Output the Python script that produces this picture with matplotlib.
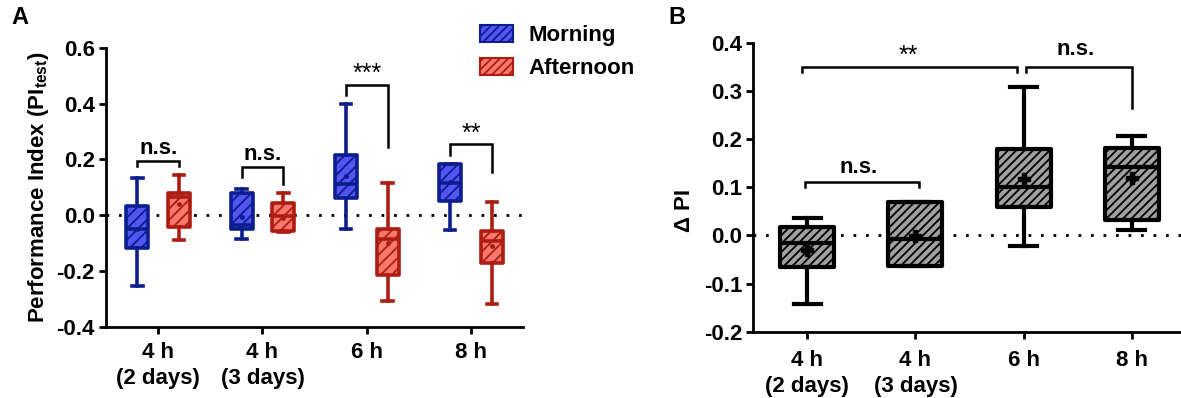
import numpy as np
import matplotlib
matplotlib.use("Agg")
import matplotlib.pyplot as plt
from matplotlib.patches import Patch

plt.rcParams['font.family'] = ['Liberation Sans', 'DejaVu Sans']
plt.rcParams['font.weight'] = 'bold'
plt.rcParams['axes.labelweight'] = 'bold'
plt.rcParams['mathtext.fontset'] = 'custom'
plt.rcParams['mathtext.rm'] = 'Liberation Sans:bold'
plt.rcParams['mathtext.bf'] = 'Liberation Sans:bold'
plt.rcParams['mathtext.default'] = 'bf'
plt.rcParams['hatch.linewidth'] = 1.3

# categories
groups = ["4 h\n(2 days)", "4 h\n(3 days)", "6 h", "8 h"]

# panel A - Morning
morn_lo = [-0.253, -0.085, -0.051, -0.054]
morn_q1 = [-0.116, -0.051, 0.062, 0.051]
morn_med = [-0.051, -0.037, 0.110, 0.116]
morn_q3 = [0.033, 0.081, 0.214, 0.183]
morn_hi = [0.134, 0.092, 0.400, 0.183]
morn_mean = [-0.050, -0.008, 0.140, 0.120]

# panel A - Afternoon
aft_lo = [-0.090, -0.060, -0.308, -0.319]
aft_q1 = [-0.044, -0.056, -0.213, -0.173]
aft_med = [0.066, -0.004, -0.084, -0.092]
aft_q3 = [0.078, 0.044, -0.051, -0.056]
aft_hi = [0.144, 0.078, 0.116, 0.047]
aft_mean = [0.039, -0.010, -0.100, -0.110]

# panel B - delta PI
d_lo = [-0.142, -0.063, -0.023, 0.012]
d_q1 = [-0.066, -0.063, 0.059, 0.031]
d_med = [-0.015, -0.007, 0.100, 0.143]
d_q3 = [0.017, 0.070, 0.179, 0.181]
d_hi = [0.036, 0.070, 0.309, 0.207]
d_mean = [-0.030, -0.002, 0.117, 0.119]


def make_stats(lo, q1, med, q3, hi, mean):
    return [dict(whislo=a, q1=b, med=c, q3=d, whishi=e, mean=f, fliers=[])
            for a, b, c, d, e, f in zip(lo, q1, med, q3, hi, mean)]


def draw_box(ax, stats, pos, width, edge, face, hatch, lw, capw, meanprops):
    bp = ax.bxp(stats, positions=pos, widths=width, patch_artist=True,
                showmeans=True, showfliers=False, capwidths=capw,
                boxprops=dict(facecolor=face, edgecolor=edge, linewidth=lw, hatch=hatch),
                medianprops=dict(color=edge, linewidth=lw),
                whiskerprops=dict(color=edge, linewidth=lw),
                capprops=dict(color=edge, linewidth=lw),
                meanprops=meanprops)
    for b in bp['boxes']:
        b.set_joinstyle('round')
    return bp


def bracket(ax, x1, x2, ytop, y1, y2, text, tx, ty, size, weight):
    ax.plot([x1, x1, x2, x2], [y1, ytop, ytop, y2], color='black', lw=1.8,
            solid_joinstyle='miter', clip_on=False)
    ax.text(tx, ty, text, ha='center', va='center', fontsize=size,
            fontweight=weight)


def style_axes(ax, xpad):
    for s in ['top', 'right']:
        ax.spines[s].set_visible(False)
    for s in ['left', 'bottom']:
        ax.spines[s].set_linewidth(2.0)
    ax.tick_params(width=2.0, length=5, labelsize=16, pad=3)
    ax.tick_params(axis='x', pad=xpad)
    for lab in ax.get_xticklabels():
        lab.set_linespacing(1.3)
    ax.axhline(0, color='black', lw=2.0, ls=(0, (1, 3.5)), zorder=0)


fig = plt.figure(figsize=(11.81, 3.98), dpi=100)

# ---------- panel A ----------
axA = fig.add_axes([0.0898, 0.179, 0.3532, 0.701])
x = np.arange(len(groups))
blue_edge, blue_face = '#0c1e8e', '#5454f2'
red_edge, red_face = '#ad1d12', '#f8786e'
draw_box(axA, make_stats(morn_lo, morn_q1, morn_med, morn_q3, morn_hi, morn_mean),
         x - 0.2, 0.21, blue_edge, blue_face, '///', 2.6, 0.1,
         dict(marker='o', markerfacecolor=blue_edge, markeredgecolor=blue_edge, markersize=2.5))
draw_box(axA, make_stats(aft_lo, aft_q1, aft_med, aft_q3, aft_hi, aft_mean),
         x + 0.2, 0.21, red_edge, red_face, '///', 2.6, 0.1,
         dict(marker='o', markerfacecolor=red_edge, markeredgecolor=red_edge, markersize=2.5))
axA.set_xlim(-0.5, 3.5)
axA.set_ylim(-0.4, 0.6)
axA.set_yticks([-0.4, -0.2, 0.0, 0.2, 0.4, 0.6])
axA.set_yticklabels(['-0.4', '-0.2', '0.0', '0.2', '0.4', '0.6'])
axA.set_xticks(x)
axA.set_xticklabels(groups)
style_axes(axA, 6)
axA.set_ylabel('Performance Index (PI$_{test}$)', fontsize=16, labelpad=4)

bracket(axA, -0.2, 0.2, 0.194, 0.177, 0.177, 'n.s.', 0.0, 0.240, 16, 'bold')
bracket(axA, 0.8, 1.2, 0.173, 0.137, 0.111, 'n.s.', 1.0, 0.219, 16, 'bold')
bracket(axA, 1.8, 2.2, 0.468, 0.430, 0.245, '***', 2.0, 0.506, 18, 'normal')
bracket(axA, 2.8, 3.2, 0.254, 0.215, 0.153, '**', 3.0, 0.292, 18, 'normal')

handles = [Patch(facecolor=blue_face, edgecolor=blue_edge, hatch='////', linewidth=1.5),
           Patch(facecolor=red_face, edgecolor=red_edge, hatch='////', linewidth=1.5)]
axA.legend(handles, ['Morning', 'Afternoon'], loc='upper left',
           bbox_to_anchor=(0.876, 1.115), frameon=False, fontsize=16,
           handlelength=1.45, handleheight=0.8, handletextpad=0.7, labelspacing=0.55,
           borderaxespad=0)

# ---------- panel B ----------
axB = fig.add_axes([0.6379, 0.1666, 0.3621, 0.726])
draw_box(axB, make_stats(d_lo, d_q1, d_med, d_q3, d_hi, d_mean),
         x, 0.5, 'black', '#a0a0a0', '////', 3.0, 0.25,
         dict(marker='P', markerfacecolor='black', markeredgecolor='black', markersize=8))
axB.set_xlim(-0.5, 3.457)
axB.set_ylim(-0.2, 0.4)
axB.set_yticks([-0.2, -0.1, 0.0, 0.1, 0.2, 0.3, 0.4])
axB.set_yticklabels(['-0.2', '-0.1', '0.0', '0.1', '0.2', '0.3', '0.4'])
axB.set_xticks(x)
axB.set_xticklabels(groups)
style_axes(axB, 8)
axB.set_ylabel('Δ PI', fontsize=16)
axB.yaxis.set_label_coords(-0.136, 0.42)

bracket(axB, -0.05, 1.94, 0.349, 0.340, 0.340, '**', 0.93, 0.372, 18, 'normal')
bracket(axB, 2.02, 3.0, 0.349, 0.340, 0.264, 'n.s.', 2.48, 0.385, 16, 'bold')
bracket(axB, -0.02, 1.03, 0.110, 0.100, 0.100, 'n.s.', 0.47, 0.140, 16, 'bold')

fig.text(0.010, 0.955, 'A', fontsize=17, fontweight='bold', va='center')
fig.text(0.566, 0.955, 'B', fontsize=17, fontweight='bold', va='center')

fig.savefig('out.png', dpi=100)
